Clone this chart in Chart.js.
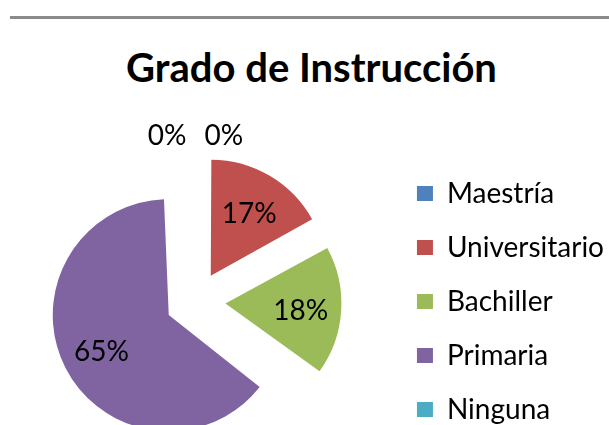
<!DOCTYPE html>
<html>
<head>
<meta charset="utf-8">
<script src="https://cdn.jsdelivr.net/npm/chart.js@4.4.0/dist/chart.umd.min.js"></script>
<style>
  html, body { margin: 0; padding: 0; background: #fff; overflow: hidden; }
  #wrap { position: relative; width: 609px; height: 425px; overflow: hidden; }
  #rule { position: absolute; left: 10px; right: 0; top: 16px; height: 3px; background: #8a8a8a; }
  #title { position: absolute; left: 0; top: 44px; width: 623px; text-align: center;
           font: bold 40px Lato, "Open Sans", sans-serif; line-height: 46px; color: #000; }
  #myChart { position: absolute; left: 0; top: 0; }
</style>
</head>
<body>
<div id="wrap">
  <div id="rule"></div>
  <div id="title">Grado de Instrucción</div>
  <canvas id="myChart" width="614" height="470"></canvas>
</div>
<script>
const categories = ["Maestría", "Universitario", "Bachiller", "Primaria", "Ninguna"];
const percentages = [0, 17, 18, 65, 0];
const sliceColors = ["#4F81BD", "#C0504D", "#9BBB59", "#8064A2", "#4BACC6"];

const explode = 30;
const pieRadius = 116;
const family = "Lato, 'Open Sans', sans-serif";

// v4 grows the radius of wide exploded arcs, take that back so all slices match
const keepRadius = {
  id: "keepRadius",
  afterDatasetUpdate(chart) {
    chart.getDatasetMeta(0).data.forEach((arc) => {
      const circ = arc.endAngle - arc.startAngle;
      if (circ > 0) {
        arc.outerRadius -= (arc.options.offset / 4) * (1 - Math.sin(Math.min(Math.PI, circ)));
      }
    });
  },
};

// percentage labels inside slices, the empty slices get theirs above the pie
const sliceLabels = {
  id: "sliceLabels",
  afterDatasetsDraw(chart) {
    const ctx = chart.ctx;
    const values = chart.data.datasets[0].data;
    const arcs = chart.getDatasetMeta(0).data;
    ctx.save();
    ctx.font = "28px " + family;
    ctx.fillStyle = "#000";
    ctx.textAlign = "center";
    ctx.textBaseline = "middle";
    arcs.forEach((arc, i) => {
      const text = values[i] + "%";
      const mid = (arc.startAngle + arc.endAngle) / 2;
      if (values[i] === 0) {
        const w = ctx.measureText(text).width;
        const side = i === 0 ? 1 : -1;
        const r = pieRadius + explode + 22;
        ctx.fillText(text, arc.x + Math.cos(mid) * r + side * (w / 2 + 9), arc.y + Math.sin(mid) * r + 2);
      } else {
        const r = explode + pieRadius * 0.65;
        ctx.fillText(text, arc.x + Math.cos(mid) * r, arc.y + Math.sin(mid) * r + 3);
      }
    });
    ctx.restore();
  },
};

new Chart(document.getElementById("myChart"), {
  type: "pie",
  data: {
    labels: categories,
    datasets: [
      {
        data: percentages,
        backgroundColor: sliceColors,
        borderWidth: 0,
        offset: explode * 4,
        radius: pieRadius,
      },
    ],
  },
  options: {
    responsive: false,
    animation: false,
    layout: { padding: { top: 133, left: 0 } },
    plugins: {
      title: { display: false },
      tooltip: { enabled: false },
      legend: {
        position: "right",
        labels: {
          color: "#000",
          font: { family: family, size: 28 },
          boxWidth: 16,
          boxHeight: 15,
          padding: 26,
        },
      },
    },
  },
  plugins: [keepRadius, sliceLabels],
});
</script>
</body>
</html>
